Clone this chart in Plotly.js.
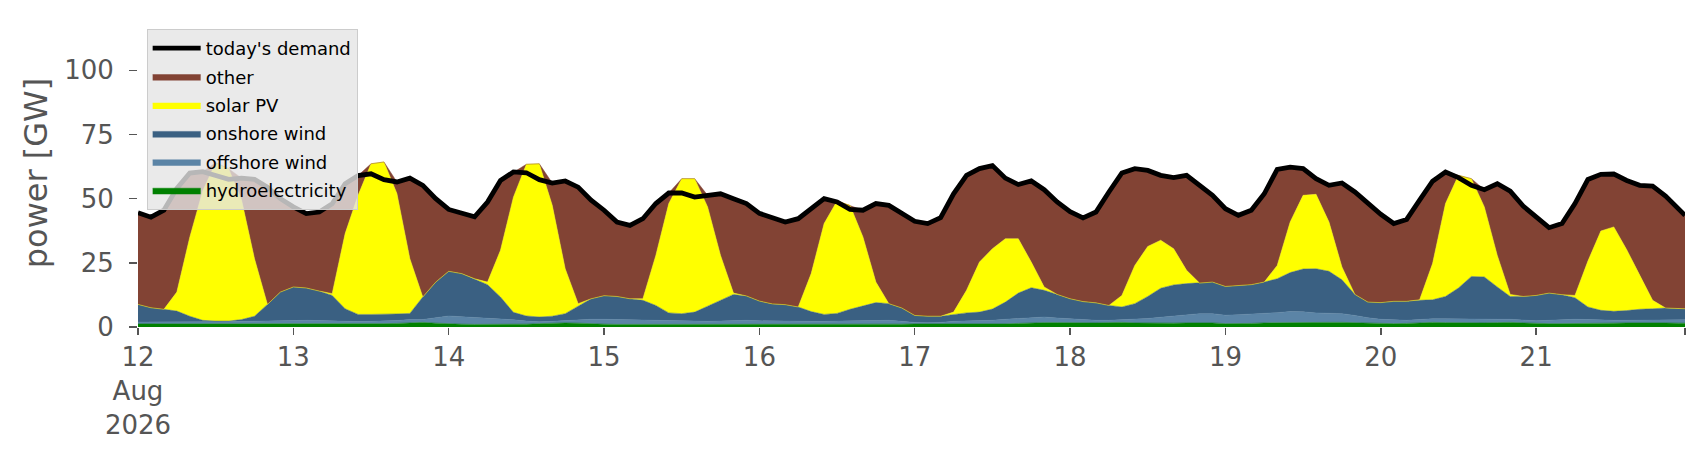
<!DOCTYPE html>
<html>
<head>
<meta charset="utf-8">
<script src="https://cdn.plot.ly/plotly-3.0.1.min.js"></script>
<style>
  html, body { margin: 0; padding: 0; background: #ffffff; }
  #chart { width: 1706px; height: 460px; }
</style>
</head>
<body>
<div id="chart"></div>
<script>
// Generation mix, 2-hourly samples from 12 Aug 2026 00:00 to 21 Aug 23:00 (GW)
const times = [];
for (let d = 12; d <= 21; d++) {
    for (let h = 0; h < 24; h += 2) {
        times.push(`2026-08-${d} ${String(h).padStart(2, '0')}:00`);
    }
}
times.push('2026-08-21 23:00');

const hydro = [
    1.2, 1.2, 1.2, 1.2, 1.2, 1.2, 1.2, 1.2, 1.2, 1.2, 1.2, 1.2,
    1.2, 1.2, 1.2, 1.1, 1.1, 1.1, 1.2, 1.3, 1.4, 1.6, 1.8, 1.5,
    1.2, 1.1, 1.0, 1.0, 1.0, 1.0, 1.1, 1.3, 1.5, 1.6, 1.5, 1.2,
    1.1, 1.0, 1.0, 1.0, 1.0, 1.0, 1.0, 1.0, 1.0, 1.0, 1.0, 1.0,
    1.0, 0.9, 0.9, 0.9, 0.9, 0.9, 0.9, 0.9, 1.0, 1.0, 1.0, 1.1,
    1.2, 1.2, 1.2, 1.1, 1.1, 1.1, 1.1, 1.2, 1.4, 1.6, 1.7, 1.7,
    1.6, 1.6, 1.6, 1.7, 1.8, 1.6, 1.5, 1.4, 1.5, 1.6, 1.7, 1.6,
    1.3, 1.3, 1.4, 1.6, 1.7, 1.7, 1.8, 1.8, 1.8, 1.8, 1.7, 1.6,
    1.3, 1.3, 1.4, 1.7, 1.8, 1.7, 1.6, 1.6, 1.6, 1.7, 1.8, 1.6,
    1.4, 1.3, 1.3, 1.3, 1.4, 1.5, 1.5, 1.6, 1.7, 1.7, 1.6, 1.5, 1.5,
];

const offshoreWind = [
    0.7, 0.7, 0.6, 0.6, 0.6, 0.7, 0.8, 0.9, 1.0, 1.1, 1.2, 1.3,
    1.4, 1.4, 1.3, 1.2, 1.1, 1.0, 1.0, 1.0, 1.1, 1.3, 1.1, 2.1,
    3.1, 2.9, 2.7, 2.4, 2.2, 1.8, 1.2, 0.7, 0.7, 0.9, 1.2, 1.8,
    1.9, 1.9, 1.8, 1.6, 1.5, 1.3, 1.2, 1.2, 1.2, 1.3, 1.5, 1.6,
    1.4, 1.4, 1.3, 1.3, 1.3, 1.3, 1.4, 1.5, 1.5, 1.6, 1.6, 1.1,
    0.6, 0.5, 0.6, 1.1, 1.2, 1.3, 1.5, 1.8, 1.9, 2.0, 2.2, 1.8,
    1.6, 1.3, 1.0, 0.9, 1.0, 1.4, 1.8, 2.4, 2.8, 3.2, 3.5, 3.6,
    3.3, 3.5, 3.6, 3.6, 3.9, 4.3, 4.1, 3.7, 3.5, 3.4, 2.8, 2.0,
    1.7, 1.4, 1.2, 1.2, 1.4, 1.5, 1.5, 1.4, 1.4, 1.3, 1.2, 1.1,
    1.0, 1.3, 1.6, 1.7, 1.5, 1.2, 1.1, 1.0, 0.9, 1.0, 1.2, 1.3, 1.3,
];

const onshoreWind = [
    6.9, 5.6, 5.1, 4.4, 2.4, 0.7, 0.3, 0.2, 0.7, 1.9, 6.4, 11.1,
    13.0, 12.6, 11.5, 10.0, 4.9, 2.8, 2.7, 2.6, 2.6, 2.4, 8.8, 13.9,
    17.4, 16.8, 15.1, 13.1, 8.5, 2.9, 2.0, 1.9, 2.0, 2.7, 5.4, 8.0,
    9.2, 9.0, 8.2, 7.8, 5.9, 3.2, 3.0, 3.6, 5.9, 8.1, 10.2, 9.5,
    7.7, 6.7, 6.5, 5.6, 3.8, 2.7, 3.0, 4.5, 5.7, 6.9, 6.5, 5.2,
    2.7, 2.5, 2.4, 2.6, 3.2, 3.4, 4.4, 6.7, 9.9, 11.7, 10.4, 9.2,
    7.8, 7.0, 6.8, 5.8, 5.0, 6.1, 8.6, 11.3, 12.1, 12.1, 11.9, 12.3,
    11.2, 11.4, 11.5, 12.3, 13.2, 15.2, 16.7, 17.2, 16.4, 13.2, 8.2, 6.1,
    6.5, 7.3, 7.4, 7.5, 7.4, 8.7, 12.1, 16.7, 16.5, 12.6, 8.9, 9.2,
    9.9, 10.6, 9.7, 8.4, 4.9, 3.8, 3.5, 3.8, 4.3, 4.4, 4.6, 4.3, 4.3,
];

const solarPV = [
    0, 0, 0, 7.4, 30.8, 50.4, 61.7, 59.4, 46.6, 22.4, 0, 0,
    0, 0, 0, 0.7, 29.3, 46.4, 58.7, 59.4, 46.9, 21.3, 0, 0,
    0, 0, 0, 1.0, 18.2, 44.9, 59.1, 59.7, 43.2, 17.5, 1.0, 0,
    0, 0, 0, 0.6, 19.5, 42.6, 52.6, 52.0, 38.7, 17.5, 0.5, 0,
    0, 0, 0, 0, 14.8, 35.4, 43.8, 40.5, 26.9, 8.0, 0, 0,
    0, 0, 0, 1.0, 8.8, 19.5, 23.5, 24.7, 21.2, 10.0, 1.3, 0,
    0, 0, 0, 0, 4.5, 14.9, 19.5, 18.7, 14.1, 5.2, 0, 0,
    0, 0, 0, 0, 5.2, 19.7, 28.7, 29.0, 19.2, 5.0, 0, 0,
    0, 0, 0, 0.2, 14.1, 36.2, 43.9, 38.1, 27.3, 12.3, 0.8, 0,
    0, 0, 0, 0.9, 17.9, 30.9, 32.9, 23.7, 13.2, 3.3, 0, 0, 0,
];

const other = [
    35.7, 35.3, 38.6, 40.4, 25.0, 7.5, 0, 0, 8.5, 30.9, 45.7, 36.4,
    31.2, 29.0, 30.8, 35.0, 19.4, 7.7, 0, 0, 4.5, 31.4, 43.5, 32.5,
    24.1, 23.7, 24.1, 31.2, 27.2, 9.8, 0, 0, 8.7, 34.2, 45.4, 38.4,
    33.3, 29.0, 28.6, 31.2, 20.2, 4.1, 0, 0, 4.5, 24.0, 36.8, 36.0,
    34.2, 33.5, 32.2, 34.4, 25.3, 9.7, 0, 0, 10.4, 30.6, 38.3, 36.8,
    36.7, 36.1, 38.4, 46.1, 44.8, 36.4, 32.4, 23.6, 21.1, 31.6, 37.9, 36.0,
    33.9, 32.6, 35.4, 44.2, 47.7, 37.7, 29.6, 25.3, 27.7, 37.0, 38.1, 33.8,
    30.3, 27.3, 29.0, 34.4, 37.4, 21.4, 10.4, 6.1, 14.3, 32.7, 39.9, 38.4,
    34.4, 30.3, 31.9, 38.8, 32.1, 12.3, 0, 0, 6.7, 27.9, 40.2, 35.2,
    30.6, 25.5, 27.7, 35.8, 31.8, 22.1, 20.6, 27.0, 35.1, 44.5, 43.6, 39.0, 36.4,
];

const demand = [
    44.5, 42.8, 45.5, 54.0, 60.0, 60.5, 59.0, 57.5, 58.0, 57.5, 54.5, 50.0,
    46.8, 44.2, 44.8, 48.0, 55.8, 59.0, 59.7, 57.4, 56.5, 58.0, 55.2, 50.0,
    45.8, 44.5, 42.9, 48.7, 57.1, 60.4, 60.1, 57.4, 56.1, 56.9, 54.5, 49.4,
    45.5, 40.9, 39.6, 42.2, 48.1, 52.2, 52.2, 50.6, 51.3, 51.9, 50.0, 48.1,
    44.3, 42.5, 40.9, 42.2, 46.1, 50.0, 48.7, 45.8, 45.5, 48.1, 47.4, 44.2,
    41.2, 40.3, 42.6, 51.9, 59.1, 61.7, 62.9, 58.0, 55.5, 56.9, 53.5, 48.7,
    44.9, 42.5, 44.8, 52.6, 60.0, 61.7, 61.0, 59.1, 58.2, 59.1, 55.2, 51.3,
    46.1, 43.5, 45.5, 51.9, 61.4, 62.3, 61.7, 57.8, 55.2, 56.1, 52.6, 48.1,
    43.9, 40.3, 41.9, 49.4, 56.8, 60.4, 58.2, 55.2, 53.5, 55.8, 52.9, 47.1,
    42.9, 38.7, 40.3, 48.1, 57.5, 59.5, 59.6, 57.1, 55.2, 54.9, 51.0, 46.1, 43.5,
];

const dayTicks = ['2026-08-12', '2026-08-13', '2026-08-14', '2026-08-15', '2026-08-16',
    '2026-08-17', '2026-08-18', '2026-08-19', '2026-08-20', '2026-08-21', '2026-08-21 23:00'];
const dayLabels = ['12<br>Aug<br>2026', '13', '14', '15', '16', '17', '18', '19', '20', '21', ''];

const FONT = 'DejaVu Sans, sans-serif';
const AXIS_GREY = '#555555';

function areaTrace(name, values, color, rank) {
    return {
        x: times,
        y: values,
        name: name,
        type: 'scatter',
        mode: 'lines',
        stackgroup: 'gen',
        fillcolor: color,
        line: { color: color, width: 0.5 },
        legendgroup: name,
        legendrank: rank,
        hoverinfo: 'x+y+name',
    };
}

const traces = [
    areaTrace('hydroelectricity', hydro, '#008000', 6),
    areaTrace('offshore wind', offshoreWind, '#5b84a6', 5),
    areaTrace('onshore wind', onshoreWind, '#3a6082', 4),
    areaTrace('solar PV', solarPV, '#ffff00', 3),
    areaTrace('other', other, '#824334', 2),
    {
        x: times,
        y: demand,
        name: "today's demand",
        type: 'scatter',
        mode: 'lines',
        line: { color: '#000000', width: 4.8 },
        legendgroup: 'demand',
        legendrank: 1,
    },
];

const layout = {
    width: 1706,
    height: 460,
    margin: { l: 138, r: 21, t: 19, b: 133 },
    paper_bgcolor: '#ffffff',
    plot_bgcolor: '#ffffff',
    font: { family: FONT, color: AXIS_GREY },
    showlegend: true,
    xaxis: {
        type: 'date',
        range: ['2026-08-12 00:00', '2026-08-21 23:00'],
        tickmode: 'array',
        tickvals: dayTicks,
        ticktext: dayLabels,
        ticks: 'outside',
        ticklen: 7,
        tickwidth: 1.5,
        tickcolor: AXIS_GREY,
        tickfont: { family: FONT, size: 26, color: AXIS_GREY },
        showgrid: false,
        zeroline: false,
        showline: false,
    },
    yaxis: {
        range: [0, 120],
        tickvals: [0, 25, 50, 75, 100],
        ticks: 'outside',
        ticklen: 8,
        tickwidth: 1.5,
        tickcolor: AXIS_GREY,
        ticklabelstandoff: 10,
        tickfont: { family: FONT, size: 26, color: AXIS_GREY },
        title: { text: 'power [GW]', font: { family: FONT, size: 32, color: AXIS_GREY }, standoff: 6 },
        showgrid: false,
        zeroline: false,
        showline: false,
    },
    legend: {
        x: 0.0056,
        y: 0.9675,
        xanchor: 'left',
        yanchor: 'top',
        bgcolor: 'rgba(229,229,229,0.8)',
        bordercolor: '#cccccc',
        borderwidth: 1,
        font: { family: FONT, size: 18, color: '#000000' },
        traceorder: 'grouped',
        tracegroupgap: 2,
        itemwidth: 48,
    },
};

Plotly.newPlot('chart', traces, layout, { displayModeBar: false, staticPlot: true });
</script>
</body>
</html>
